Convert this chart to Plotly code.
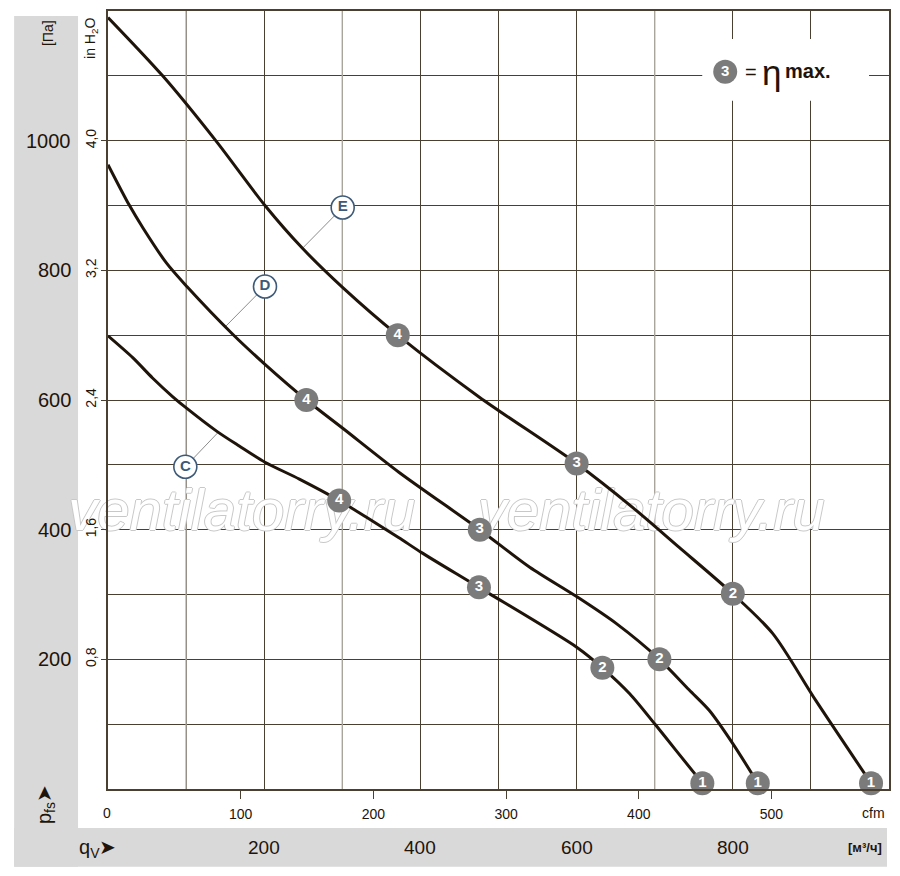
import plotly.graph_objects as go

# ---------------- data ----------------
# flow rate q_V in m³/h and static pressure p_fs in Pa
E_Q = [0, 70, 138, 201, 249, 301, 371, 476, 600, 672, 731, 800, 851, 906, 977]
E_P = [1190, 1100, 1000, 900, 834, 773, 700, 604, 502, 434, 373, 301, 240, 137, 9]

D_Q = [0, 27, 45, 75, 101, 160, 201, 254, 301, 372, 476, 540, 601, 651, 706, 744, 770, 800, 832]
D_P = [963, 901, 865, 811, 775, 701, 655, 600, 556, 489, 400, 342, 296, 255, 200, 153, 121, 70, 9]

C_Q = [0, 32, 57, 83, 101, 139, 168, 201, 245, 296, 331, 372, 401, 475, 601, 633, 668, 701, 727, 761]
C_P = [699, 665, 634, 605, 587, 552, 529, 504, 478, 445, 419, 388, 365, 311, 218, 187, 147, 99, 60, 9]

# numbered operating points 1..4 on each curve
PT_LABELS = ["1", "2", "3", "4"]
E_PT_Q = [977, 800, 600, 371]
E_PT_P = [9, 301, 502, 700]
D_PT_Q = [832, 706, 476, 254]
D_PT_P = [9, 200, 400, 600]
C_PT_Q = [761, 633, 475, 296]
C_PT_P = [9, 187, 311, 445]

# curve names with leader lines
CURVE_NAMES = ["E", "D", "C"]
NAME_Q = [300.5, 201, 99]
NAME_P = [897, 775, 497]
LEADER_Q = [249, 151, 141]
LEADER_P = [834, 714, 550]

# axis labels
PA_TICKS = [200, 400, 600, 800, 1000]
INH2O_LABELS = ["0,8", "1,6", "2,4", "3,2", "4,0"]
CFM_TICKS = [100, 200, 300, 400, 500]
M3H_LABEL_TICKS = [200, 400, 600, 800]
ETA_POINT = "3"
CFM_TO_M3H = 1.699
WATERMARK = "ventilatorry.ru"

# ---------------- layout helpers ----------------
OFF = 8                      # page body margin of the html page
W, H = 884, 860
ML, MR, MT, MB = 100, 2, 1, 79
PW, PH = W - ML - MR, H - MT - MB
Q_MAX, P_MAX = 1000, 1200


def px(x):
    """screen x (reference pixels) -> paper x"""
    return (x - OFF - ML) / PW


def py(y):
    """screen y (reference pixels) -> paper y"""
    return (H - MB - (y - OFF)) / PH


def q_of(x):
    return px(x) * Q_MAX


def p_of(y):
    return py(y) * P_MAX


FONT = "Liberation Sans, Arial, sans-serif"
DARK = "#1e140a"
GRID = "#4a4032"
GRID_LIGHT = "#aaa59c"
PT_GRAY = "#7b7b7b"
NAME_BLUE = "#3d5a78"
BAND = "#d9d9d9"

fig = go.Figure()

# watermark (below the curves)
fig.add_trace(go.Scatter(
    x=[q_of(242), q_of(652)], y=[p_of(515), p_of(515)],
    mode="text", text=[WATERMARK, WATERMARK], textposition="middle center",
    textfont=dict(family=FONT, size=58, color="white", style="italic",
                  shadow="1px 0 0 #c8c8c8, -1px 0 0 #c8c8c8, 0 1px 0 #c8c8c8, 0 -1px 0 #c8c8c8"),
    cliponaxis=False, hoverinfo="skip", showlegend=False))

# leader lines
for i in range(len(CURVE_NAMES)):
    fig.add_trace(go.Scatter(
        x=[NAME_Q[i], LEADER_Q[i]], y=[NAME_P[i], LEADER_P[i]], mode="lines",
        line=dict(color="#8c8c8c", width=1), hoverinfo="skip", showlegend=False))

# curves
for q, p in [(E_Q, E_P), (D_Q, D_P), (C_Q, C_P)]:
    fig.add_trace(go.Scatter(
        x=q, y=p, mode="lines", line=dict(color=DARK, width=3, shape="spline", smoothing=0.8),
        hoverinfo="skip", showlegend=False, cliponaxis=False))

# numbered points
for q, p in [(E_PT_Q, E_PT_P), (D_PT_Q, D_PT_P), (C_PT_Q, C_PT_P)]:
    fig.add_trace(go.Scatter(
        x=q, y=p, mode="markers+text", text=PT_LABELS, textposition="middle center",
        marker=dict(size=24, color=PT_GRAY, line=dict(width=0)),
        textfont=dict(family=FONT, size=15, color="white", weight="bold"),
        cliponaxis=False, hoverinfo="skip", showlegend=False))

# curve names
fig.add_trace(go.Scatter(
    x=NAME_Q, y=NAME_P, mode="markers+text", text=CURVE_NAMES, textposition="middle center",
    marker=dict(size=23, color="white", line=dict(width=1.6, color=NAME_BLUE)),
    textfont=dict(family=FONT, size=15, color=NAME_BLUE, weight="bold"),
    hoverinfo="skip", showlegend=False))

# eta max legend point
fig.add_trace(go.Scatter(
    x=[q_of(726)], y=[p_of(70)], mode="markers+text", text=[ETA_POINT], textposition="middle center",
    marker=dict(size=24, color=PT_GRAY), textfont=dict(family=FONT, size=15, color="white", weight="bold"),
    hoverinfo="skip", showlegend=False))

# dummy trace for the cfm axis
fig.add_trace(go.Scatter(x=[0], y=[0], xaxis="x2", mode="markers", marker=dict(opacity=0),
                         hoverinfo="skip", showlegend=False))

shapes = [
    dict(type="rect", xref="paper", yref="paper", x0=px(14), x1=px(78), y0=py(867), y1=py(14),
         fillcolor=BAND, line=dict(width=0), layer="below"),
    dict(type="rect", xref="paper", yref="paper", x0=px(14), x1=px(888), y0=py(867), y1=py(828),
         fillcolor=BAND, line=dict(width=0), layer="below"),
]
for qg in [100, 300, 700]:
    shapes.append(dict(type="line", xref="x", yref="y", x0=qg, x1=qg, y0=0, y1=P_MAX,
                       line=dict(color=GRID_LIGHT, width=1.4), layer="between"))
shapes.append(dict(type="rect", xref="x", yref="y", x0=q_of(703), x1=q_of(870), y0=p_of(99), y1=p_of(37),
                   fillcolor="white", line=dict(width=0), layer="between"))


def label(x, y, text, size, angle=0, xanchor="center", bold=False, family=FONT):
    f = dict(family=family, size=size, color=DARK)
    if bold:
        f["weight"] = "bold"
    return dict(x=px(x), y=py(y), xref="paper", yref="paper", text=text, showarrow=False,
                xanchor=xanchor, yanchor="middle", textangle=angle, font=f)


ann = []
# Pa labels
for v in PA_TICKS:
    ann.append(dict(x=px(73), y=v, xref="paper", yref="y", text=str(v), showarrow=False,
                    xanchor="right", yanchor="middle", font=dict(family=FONT, size=20, color=DARK)))
# m³/h labels
for v in M3H_LABEL_TICKS:
    ann.append(dict(x=v, y=py(848), xref="x", yref="paper", text=str(v), showarrow=False,
                    xanchor="center", yanchor="middle", font=dict(family=FONT, size=19, color=DARK)))
ann += [
    label(107, 813, "0", 14),
    label(874, 813, "cfm", 14),
    label(866, 848, "[м³/ч]", 13, bold=True),
    label(97, 849, "q<sub>V</sub>➤", 20),
    label(46, 805, "p<sub>fs</sub>➤", 20, angle=-90),
    label(48, 31, "[Па]", 14, angle=-90),
    label(91, 37, "in H<sub>2</sub>O", 14, angle=-90),
    label(752, 70, "=", 20),
    label(772, 71, "η", 35),
    label(784, 69, "max.", 20, xanchor="left", bold=True),
]

fig.update_layout(
    width=W, height=H, margin=dict(l=ML, r=MR, t=MT, b=MB, pad=0),
    paper_bgcolor="white", plot_bgcolor="white", showlegend=False,
    shapes=shapes, annotations=ann,
    xaxis=dict(range=[0, Q_MAX], dtick=100, showgrid=True, gridcolor=GRID, gridwidth=1.3,
               showticklabels=False, ticks="", zeroline=False, showline=True, linecolor=GRID,
               linewidth=1.5, mirror=True, fixedrange=True),
    xaxis2=dict(range=[0, Q_MAX / CFM_TO_M3H], overlaying="x", side="bottom", anchor="y",
                tickvals=CFM_TICKS, ticktext=[str(v) for v in CFM_TICKS], ticks="outside",
                ticklen=9, tickwidth=1.3, tickcolor=GRID, showgrid=False, showline=False,
                zeroline=False, ticklabelstandoff=3, tickfont=dict(family=FONT, size=14, color=DARK)),
    yaxis=dict(range=[0, P_MAX], tickvals=PA_TICKS, ticktext=INH2O_LABELS, tickangle=-90,
               ticks="outside", ticklen=5, tickwidth=1.3, tickcolor=GRID,
               tickfont=dict(family=FONT, size=14, color=DARK),
               showgrid=True, gridcolor=GRID, gridwidth=1.3,
               minor=dict(dtick=100, showgrid=True, gridcolor=GRID, gridwidth=1.3, ticks=""),
               zeroline=False, showline=True, linecolor=GRID, linewidth=1.5, mirror=True,
               fixedrange=True),
)

fig.write_html("out.html")
